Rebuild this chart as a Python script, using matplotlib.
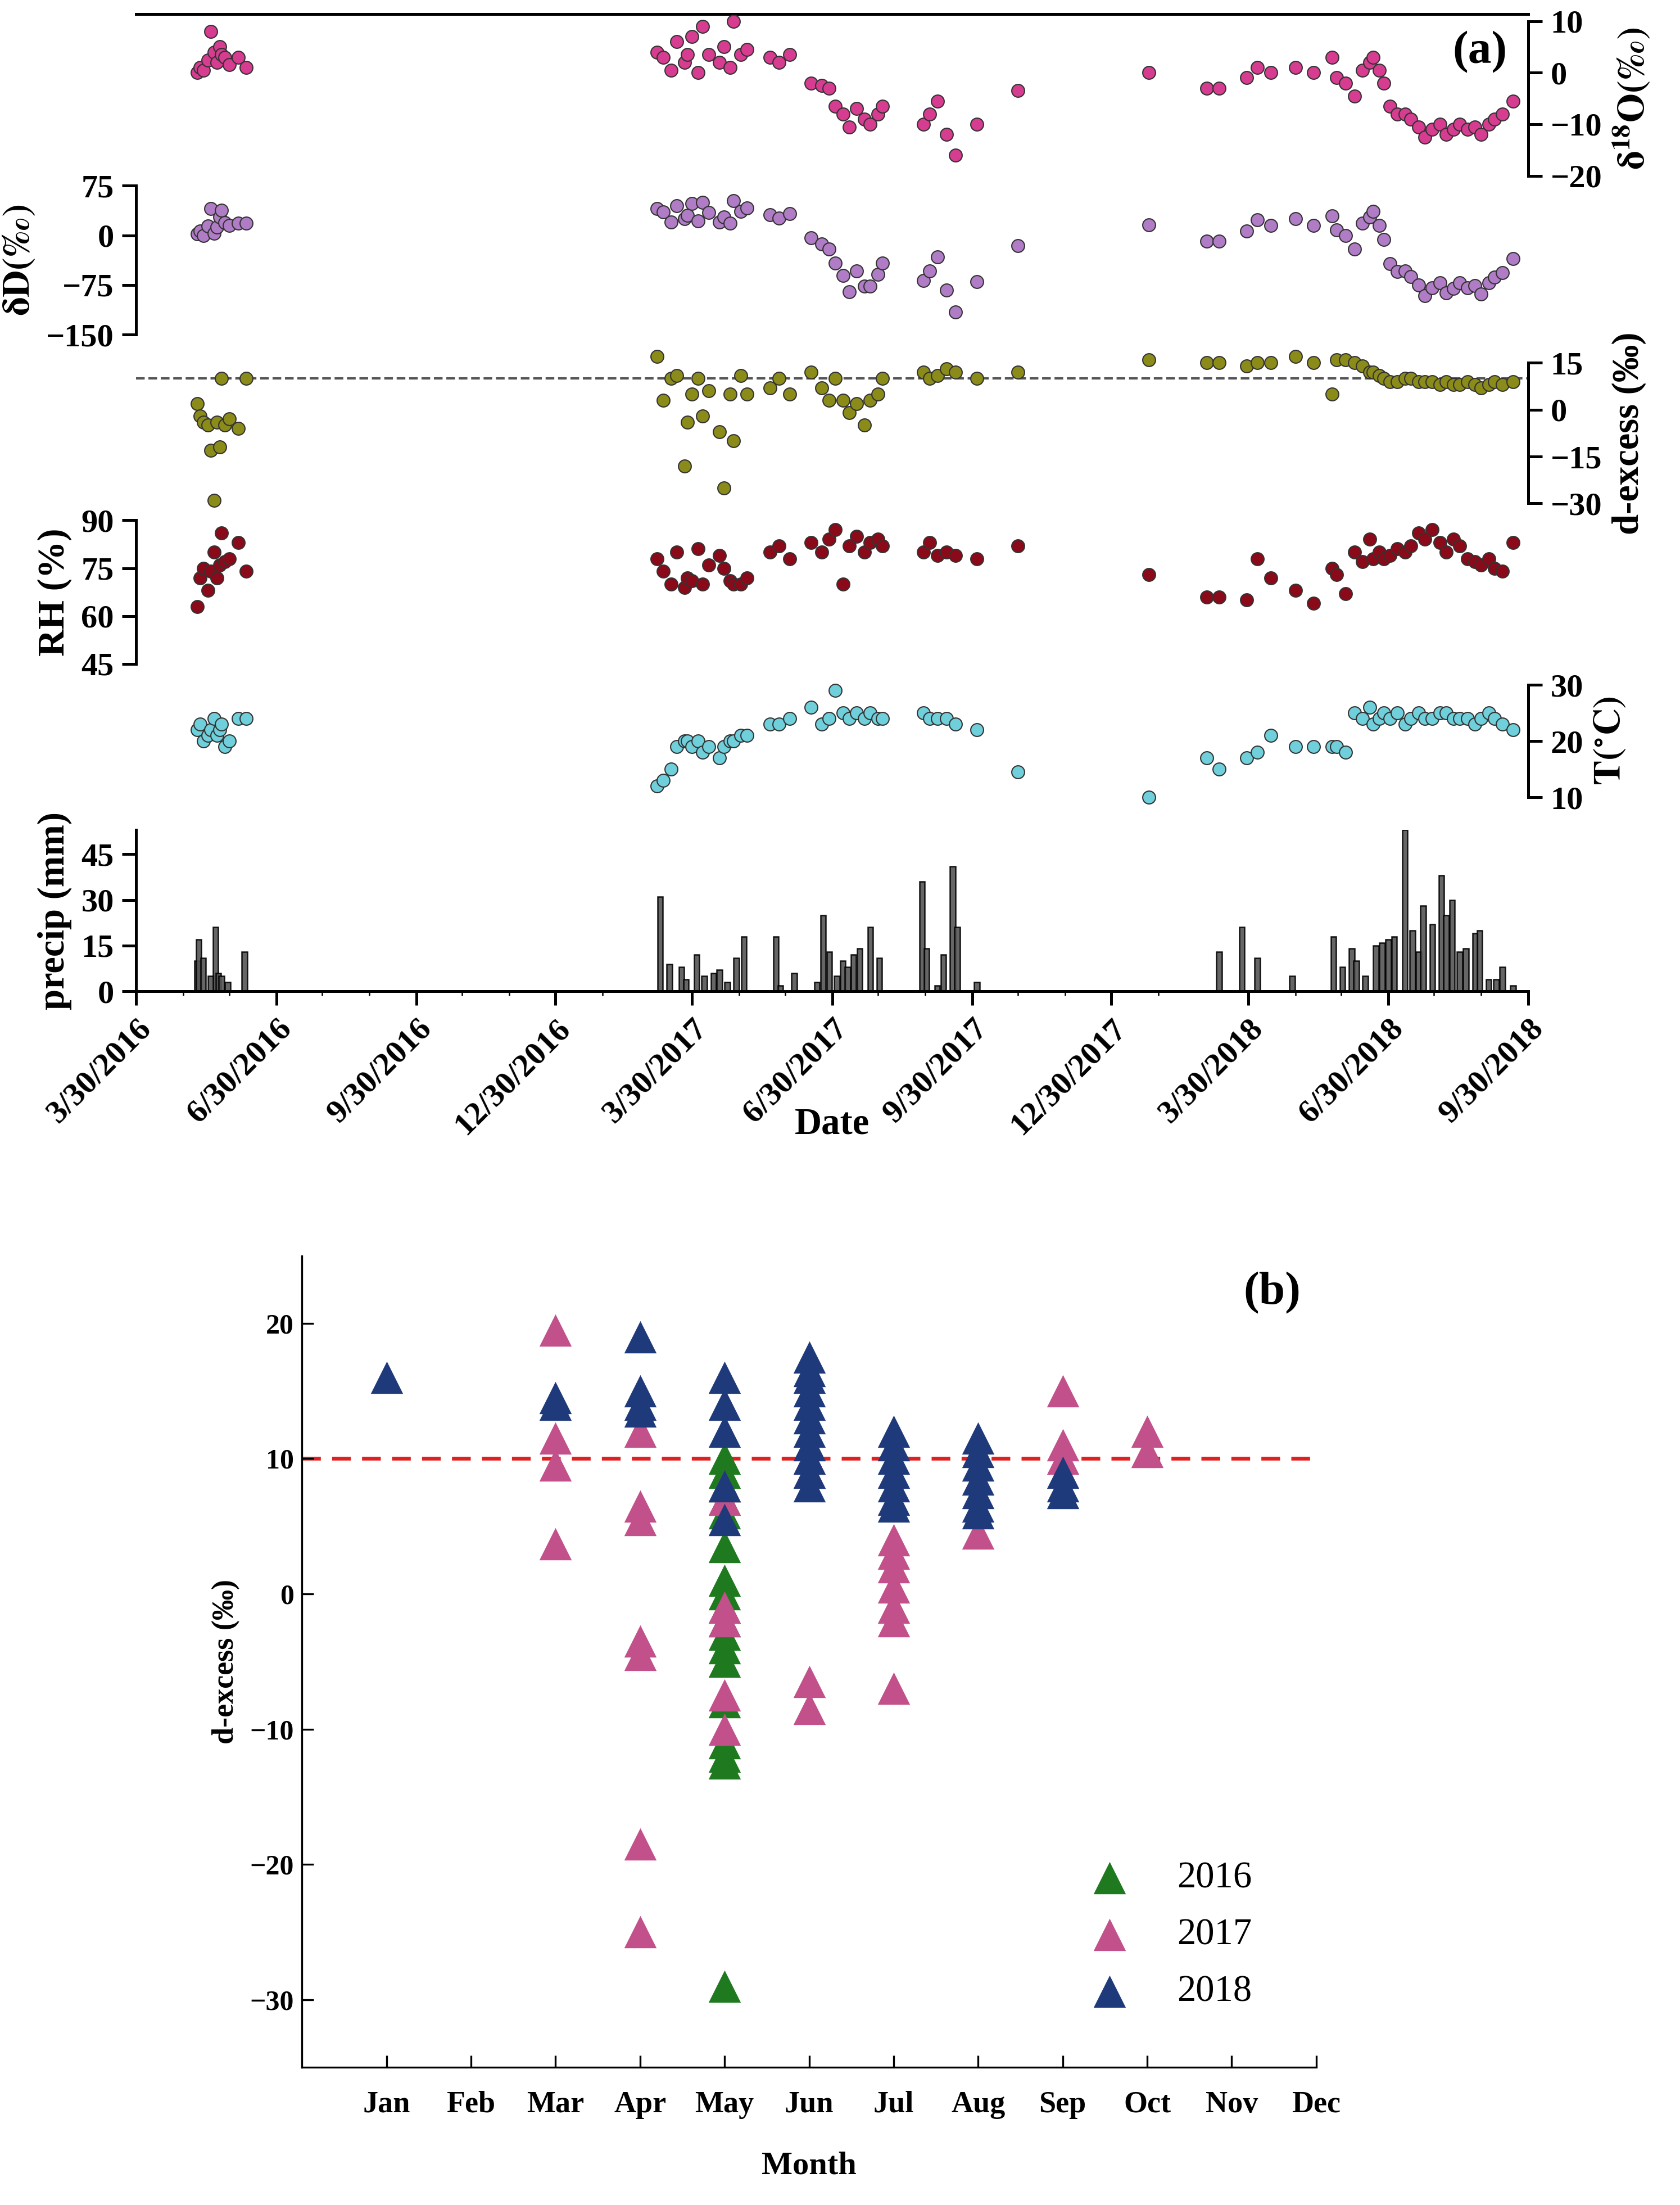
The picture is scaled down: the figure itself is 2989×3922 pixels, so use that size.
import matplotlib
matplotlib.use("Agg")
import matplotlib.pyplot as plt
import matplotlib.dates as mdates
import numpy as np
import datetime as dt

plt.rcParams['font.family'] = ['Liberation Serif', 'DejaVu Serif']
plt.rcParams['mathtext.fontset'] = 'stix'

# ---------------- data: panel (a) ----------------
start = dt.date(2016, 3, 30)
days_iso = [40, 42, 44, 47, 49, 51, 53, 55, 56, 58, 61, 67, 72,
            342, 346, 351, 355, 360, 362, 365, 369, 372, 376, 383, 386, 390, 392, 397, 401,
            416, 422, 429, 443, 450, 455, 459, 464, 468, 473, 478, 482, 487, 490, 517, 521, 526, 532, 538, 552, 579, 665,
            703, 711, 729, 736, 745, 761, 773, 785, 788, 794, 800, 805, 810, 812, 816, 819, 823, 828, 833, 837,
            842, 846, 851, 856, 860, 865, 869, 874, 879, 883, 888, 892, 897, 904]
d18o = [0, 1, 0.5, 2.4, 8, 4, 2, 5, 3.5, 3, 1.5, 3, 1,
        4, 3, 0.5, 6, 2, 3.5, 7, 0, 9, 3.5, 2, 5, 1, 10, 3.5, 4.5,
        3, 2, 3.5, -2, -2.5, -3, -6.5, -8, -10.5, -7, -9, -10, -8, -6.5, -10, -8, -5.5, -12, -16, -10, -3.5, 0,
        -3, -3, -1, 1, 0, 1, 0, 3, -1, -2, -4.5, 0.5, 2, 3, 0.5, -2, -6.5, -8, -8, -9,
        -10.5, -12.5, -11, -10, -12, -11, -10, -11, -10.5, -12, -10, -9, -8, -5.5]
dD = [2, 6, 0, 14, 40, 3, 12, 28, 38, 19, 15, 18, 18,
      40, 35, 20, 45, 25, 30, 48, 22, 50, 34, 20, 28, 18, 52, 36, 41,
      31, 26, 33, -4, -13, -21, -42, -61, -85, -54, -77, -77, -59, -42, -68, -54, -33, -83, -116, -70, -16, 16,
      -9, -9, 6, 23, 15, 25, 15, 29, 8, 0, -21, 18, 28, 36, 15, -6, -43, -55, -54, -62,
      -75, -91, -79, -72, -87, -80, -72, -79, -76, -89, -72, -63, -56, -35]
dex = [2, -2, -4, -5, -13, -29, -4, -12, 10, -5, -3, -6, 10,
       17, 3, 10, 11, -18, -4, 5, 10, -2, 6, -7, -25, 5, -10, 11, 5,
       7, 10, 5, 12, 7, 3, 10, 3, -1, 2, -5, 3, 5, 10, 12, 10, 11, 13, 12, 10, 12, 16,
       15, 15, 14, 15, 15, 17, 15, 5, 16, 16, 15, 14, 12, 12, 11, 10, 9, 9, 10, 10,
       9, 9, 9, 8, 9, 8, 8, 9, 8, 7, 8, 9, 8, 9]
rh = [63, 72, 75, 68, 74, 80, 72, 76, 86, 77, 78, 83, 74,
      78, 74, 70, 80, 69, 72, 71, 81, 70, 76, 79, 75, 71, 70, 70, 72,
      80, 82, 78, 83, 80, 84, 87, 70, 82, 85, 80, 83, 84, 82, 80, 83, 79, 80, 79, 78, 82, 73,
      66, 66, 65, 78, 72, 68, 64, 75, 73, 67, 80, 77, 84, 78, 80, 78, 79, 81, 80, 82,
      86, 84, 87, 83, 80, 84, 82, 78, 77, 76, 78, 75, 74, 83]
temp = [22, 23, 20, 21, 22, 24, 21, 22, 23, 19, 20, 24, 24,
        12, 13, 15, 19, 20, 20, 19, 20, 18, 19, 17, 19, 20, 20, 21, 21,
        23, 23, 24, 26, 23, 24, 29, 25, 24, 25, 24, 25, 24, 24, 25, 24, 24, 24, 23, 22, 14.5, 10,
        17, 15, 17, 18, 21, 19, 19, 19, 19, 18, 25, 24, 26, 23, 24, 25, 24, 25, 23, 24,
        25, 24, 24, 25, 25, 24, 24, 24, 23, 24, 25, 24, 23, 22]

days_pr = [40, 41, 44, 49, 52, 54, 56, 60, 71,
           344, 350, 358, 361, 368, 373, 379, 383, 388, 394, 399, 420, 423, 432, 447, 451, 455, 460, 464, 467,
           471, 475, 482, 488, 516, 519, 526, 530, 536, 539, 552,
           711, 726, 736, 759, 786, 792, 798, 801, 807, 814, 818, 822, 826, 833, 838, 842, 845, 851, 857, 860,
           864, 869, 873, 879, 882, 888, 893, 897, 904]
precip = [10, 17, 11, 5, 21, 6, 5, 3, 13,
          31, 9, 8, 4, 12, 5, 6, 7, 3, 11, 18, 18, 2, 6, 3, 25, 13, 5, 10, 8,
          12, 14, 21, 11, 36, 14, 2, 12, 41, 21, 3,
          13, 21, 11, 5, 18, 8, 14, 10, 5, 15, 16, 17, 18, 53, 20, 13, 28, 22, 38, 25,
          30, 13, 14, 19, 20, 4, 4, 8, 2]

date_ticks = ["3/30/2016", "6/30/2016", "9/30/2016", "12/30/2016", "3/30/2017", "6/30/2017",
              "9/30/2017", "12/30/2017", "3/30/2018", "6/30/2018", "9/30/2018"]

# ---------------- data: panel (b) ----------------
months = ["Jan", "Feb", "Mar", "Apr", "May", "Jun", "Jul", "Aug", "Sep", "Oct", "Nov", "Dec"]
b2016_m = [5] * 18
b2016_v = [10, 9, 8, 7, 6, 3.5, 1, 0, -1, -2, -3, -4, -5, -8, -11, -12, -12.5, -29]
b2017_m = [3] * 4 + [4] * 7 + [5] * 6 + [6] * 4 + [7] * 7 + [8] + [9] * 3 + [10] * 2
b2017_v = [19.5, 11.5, 9.5, 3.7,
           12, 6.5, 5.5, -3.5, -4.5, -18.5, -25,
           8, 7, -1, -2, -7.5, -10,
           10, 9, -6.5, -8.5,
           4, 3, 2, 0.5, -1, -2, -7,
           4.5,
           15, 11, 10,
           12, 10.5]
b2018_m = [1] + [3] * 2 + [4] * 4 + [5] * 5 + [6] * 11 + [7] * 7 + [8] * 7 + [9] * 3
b2018_v = [16,
           14.5, 14,
           19, 15, 14, 13.5,
           16, 14, 12, 8, 5.5,
           17.5, 16.5, 16, 15, 14, 13, 12, 11, 10, 9, 8,
           12, 11, 10, 9, 8, 7, 6.5,
           11.5, 10.5, 9.5, 8.5, 7.5, 6.5, 6,
           9, 8, 7.5]

# ---------------- figure ----------------
W_PX, H_PX = 1196.0, 1568.0
fig = plt.figure(figsize=(2989 / 300, 3922 / 300), dpi=300)

x0 = mdates.date2num(start)
xs_iso = x0 + np.array(days_iso)
xs_pr = x0 + np.array(days_pr)
tick_pos = [mdates.date2num(dt.datetime.strptime(s, "%m/%d/%Y")) for s in date_ticks]

L = 97 / W_PX
WD = (1088 - 97) / W_PX


def make_ax(top, bot, vtop, vbot, side):
    ax = fig.add_axes([L, 1 - bot / H_PX, WD, (bot - top) / H_PX])
    ax.set_ylim(vbot, vtop)
    ax.set_xlim(tick_pos[0], tick_pos[-1])
    ax.patch.set_visible(False)
    for s in ["top", "bottom", "left", "right"]:
        ax.spines[s].set_visible(s == side)
    ax.spines[side].set_linewidth(1.2)
    ax.yaxis.set_ticks_position(side)
    ax.yaxis.set_label_position(side)
    ax.tick_params(axis="y", labelsize=14, width=1.2, length=6)
    ax.set_xticks([])
    for lab in ax.get_yticklabels():
        lab.set_fontweight("bold")
    return ax


sc = dict(s=30, edgecolors="#333333", linewidths=0.5, clip_on=False, zorder=3)

ax1 = make_ax(15, 125, 10, -20, "right")
ax1.scatter(xs_iso, d18o, color="#d63c8f", **sc)
ax1.set_yticks([10, 0, -10, -20])
ax1.set_ylabel(r"$\mathbf{\delta^{18}O(‰)}$", fontsize=16, rotation=90, labelpad=4)
ax1.plot([0, 1], [1.045, 1.045], transform=ax1.transAxes, color="black", lw=1.2, clip_on=False)
ax1.text(0.985, 0.8, "(a)", transform=ax1.transAxes, ha="right", va="center",
         fontsize=20, fontweight="bold")

ax2 = make_ax(132, 238, 75, -150, "left")
ax2.scatter(xs_iso, dD, color="#b07cc6", **sc)
ax2.set_yticks([75, 0, -75, -150])
ax2.set_ylabel(r"$\mathbf{\delta D(‰)}$", fontsize=16)

ax3 = make_ax(258, 358, 15, -30, "right")
ax3.axhline(10, color="#555555", ls="--", lw=1)
ax3.scatter(xs_iso, dex, color="#8b8b1a", **sc)
ax3.set_yticks([15, 0, -15, -30])
ax3.set_ylabel("d-excess (‰)", fontsize=16, fontweight="bold", rotation=90)

ax4 = make_ax(370, 472, 90, 45, "left")
ax4.scatter(xs_iso, rh, color="#8b0a1a", **sc)
ax4.set_yticks([90, 75, 60, 45])
ax4.set_ylabel("RH (%)", fontsize=16, fontweight="bold")

ax5 = make_ax(487, 567, 30, 10, "right")
ax5.scatter(xs_iso, temp, color="#6fd0dc", **sc)
ax5.set_yticks([30, 20, 10])
ax5.set_ylabel(r"$\mathbf{T(^{\circ}C)}$", fontsize=16, rotation=90)

ax6 = make_ax(607, 705, 45, 0, "left")
ax6.set_ylim(0, 53)
ax6.set_position([L, 1 - 705 / H_PX, WD, (705 - 590) / H_PX])
ax6.bar(xs_pr, precip, width=3.5, color="#555555", edgecolor="black", linewidth=0.6, alpha=0.9)
ax6.set_yticks([0, 15, 30, 45])
ax6.set_ylabel("precip (mm)", fontsize=16, fontweight="bold")
ax6.spines["bottom"].set_visible(True)
ax6.spines["bottom"].set_linewidth(1.2)
ax6.set_xticks(tick_pos)
ax6.set_xticklabels(date_ticks, rotation=45, ha="right", rotation_mode="anchor",
                    fontsize=14, fontweight="bold")
ax6.xaxis.set_minor_locator(mdates.MonthLocator(bymonthday=30))
ax6.tick_params(axis="x", width=1.2, length=6)
ax6.set_xlabel("Date", fontsize=16, fontweight="bold", labelpad=-14)

# ---------------- panel (b) ----------------
axb = fig.add_axes([215 / W_PX, 1 - 1470 / H_PX, (937 - 215) / W_PX, (1470 - 893) / H_PX])
axb.set_xlim(0, 12)
axb.set_ylim(-35, 25)
axb.axhline(10, color="#e02020", ls=(0, (5, 3)), lw=1.6, zorder=1)
tri = dict(marker="^", s=190, linewidths=0, zorder=3)
axb.scatter(b2016_m, b2016_v, color="#1f7a1f", label="2016", **tri)
axb.scatter(b2017_m, b2017_v, color="#c2508a", label="2017", **tri)
axb.scatter(b2018_m, b2018_v, color="#1f3a7a", label="2018", **tri)
axb.spines["top"].set_visible(False)
axb.spines["right"].set_visible(False)
axb.set_xticks(range(1, 13))
axb.set_xticklabels(months, fontsize=13, fontweight="bold")
axb.set_xticks([0], minor=True)
axb.set_yticks([20, 10, 0, -10, -20, -30])
for lab in axb.get_yticklabels():
    lab.set_fontweight("bold")
axb.tick_params(axis="y", labelsize=12)
axb.tick_params(axis="both", which="both", direction="in", length=5)
axb.tick_params(axis="x", pad=10)
axb.set_xlabel("Month", fontsize=14, fontweight="bold", labelpad=14)
axb.set_ylabel("d-excess (‰)", fontsize=13, fontweight="bold")
axb.text(0.985, 0.98, "(b)", transform=axb.transAxes, ha="right", va="top",
         fontsize=20, fontweight="bold")
axb.legend(loc="lower right", bbox_to_anchor=(0.97, 0.03), frameon=False, fontsize=16,
           handletextpad=0.8, labelspacing=0.6)

fig.savefig("out.png", dpi=300)
